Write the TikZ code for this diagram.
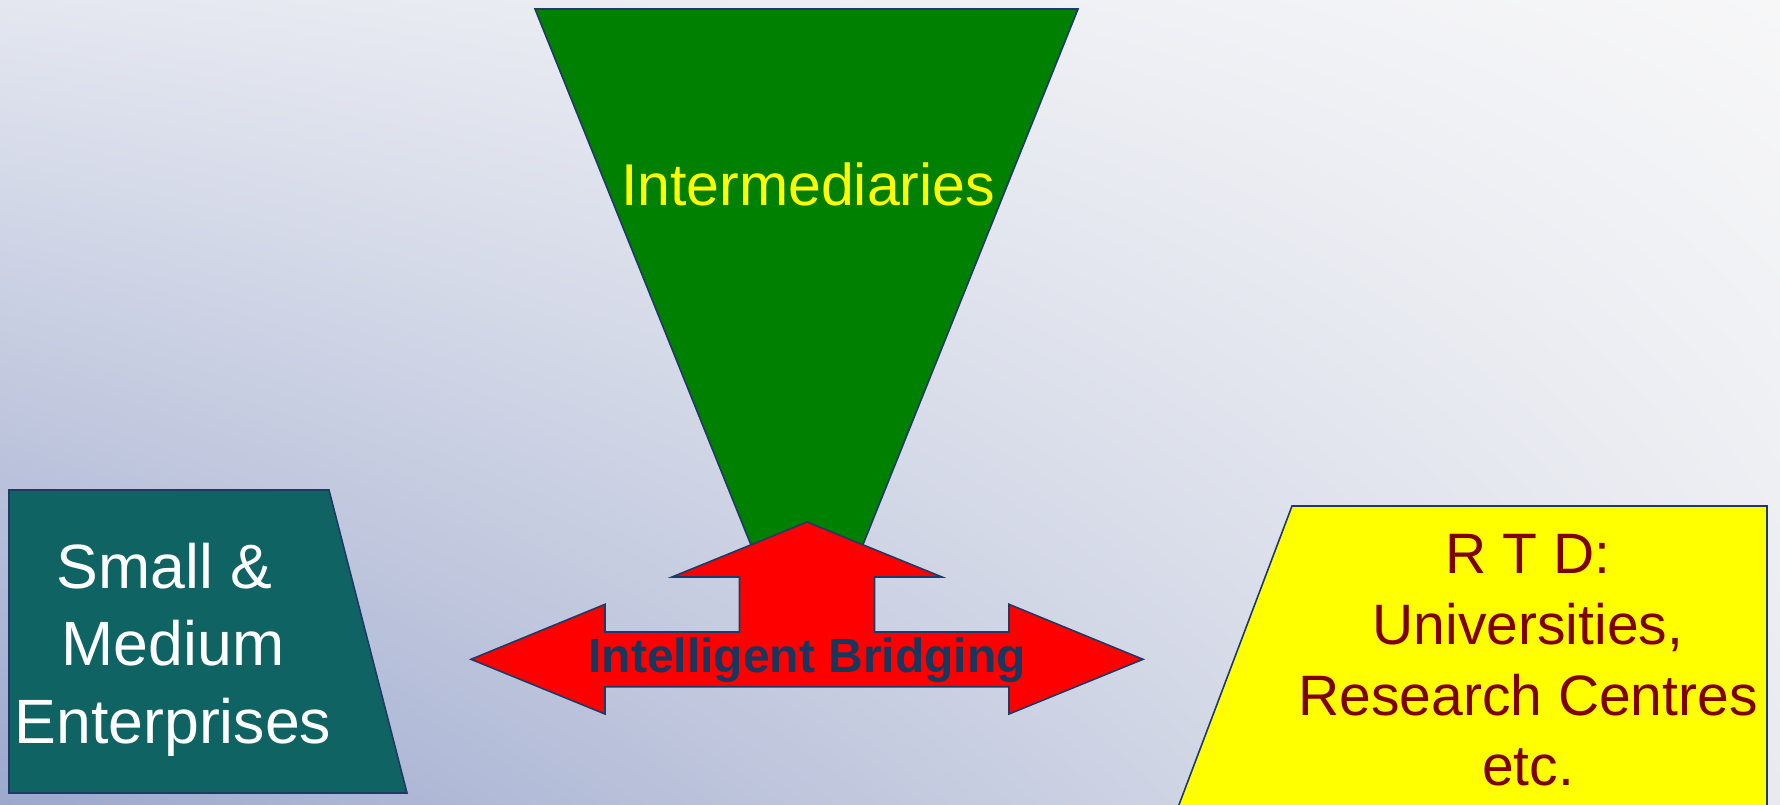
\documentclass[tikz,border=0pt]{standalone}
\usepackage{fontspec}
\setmainfont{Liberation Sans}
\usetikzlibrary{shadings}
\definecolor{bgUL}{HTML}{E4E7F0}
\definecolor{bgUR}{HTML}{F7F7F8}
\definecolor{bgLL}{HTML}{9CA8CD}
\definecolor{bgLR}{HTML}{E8EAF0}
\definecolor{edge}{HTML}{1F3A66}
\definecolor{midgreen}{HTML}{008000}
\definecolor{smeteal}{HTML}{0F6363}
\definecolor{rtdred}{HTML}{800000}
\definecolor{navy}{HTML}{17375E}
\definecolor{brightyellow}{HTML}{FFFF00}
\definecolor{brightred}{HTML}{FF0000}
\tikzset{
  shapeline/.style={draw=edge, line width=1.6pt, line join=miter},
  label/.style={inner sep=0pt, anchor=base, align=center},
}
\begin{document}
\begin{tikzpicture}[x=1pt, y=-1pt]
  % canvas and soft background
  \useasboundingbox (0,0) rectangle (1780,804);
  \shade[upper left=bgUL, upper right=bgUR, lower left=bgLL, lower right=bgLR]
    (0,0) rectangle (1780,804);

  % intermediaries funnel
  \path[shapeline, fill=midgreen] (535,9) -- (1078,9) -- (807,684) -- cycle;
  \node[label, text=brightyellow, font=\fontsize{59}{73}\selectfont] (inter) at (808,205) {Intermediaries};

  % SME block (node anchored at the baseline of its last line)
  \path[shapeline, fill=smeteal] (9,490) -- (329,490) -- (407,793) -- (9,793) -- cycle;
  \node[label, text=white, font=\fontsize{62.6}{77.5}\selectfont] (sme) at (173,743.3)
    {Small \&\hspace*{0.28em}\\Medium\\Enterprises};

  % RTD block
  \path[shapeline, fill=brightyellow] (1292,506) -- (1767,506) -- (1767,810) -- (1177,810) -- cycle;
  \node[label, text=rtdred, font=\fontsize{57}{70.6}\selectfont] (rtd) at (1528,785.7)
    {R T D:\\Universities,\\Research Centres\\etc.};

  % three-way bridging arrow
  \path[shapeline, fill=brightred]
    (807,522) -- (942,577) -- (874.5,577) -- (874.5,632) -- (1009,632) -- (1009,604.3)
    -- (1143,659.3) -- (1009,714) -- (1009,686.7) -- (605,686.7) -- (605,714)
    -- (471,659.3) -- (605,604.3) -- (605,632) -- (739.5,632) -- (739.5,577)
    -- (672,577) -- cycle;
  \node[label, text=navy, font=\fontsize{48}{56}\selectfont\bfseries] (bridge) at (807,672.7)
    {Intelligent Bridging};
\end{tikzpicture}
\end{document}
